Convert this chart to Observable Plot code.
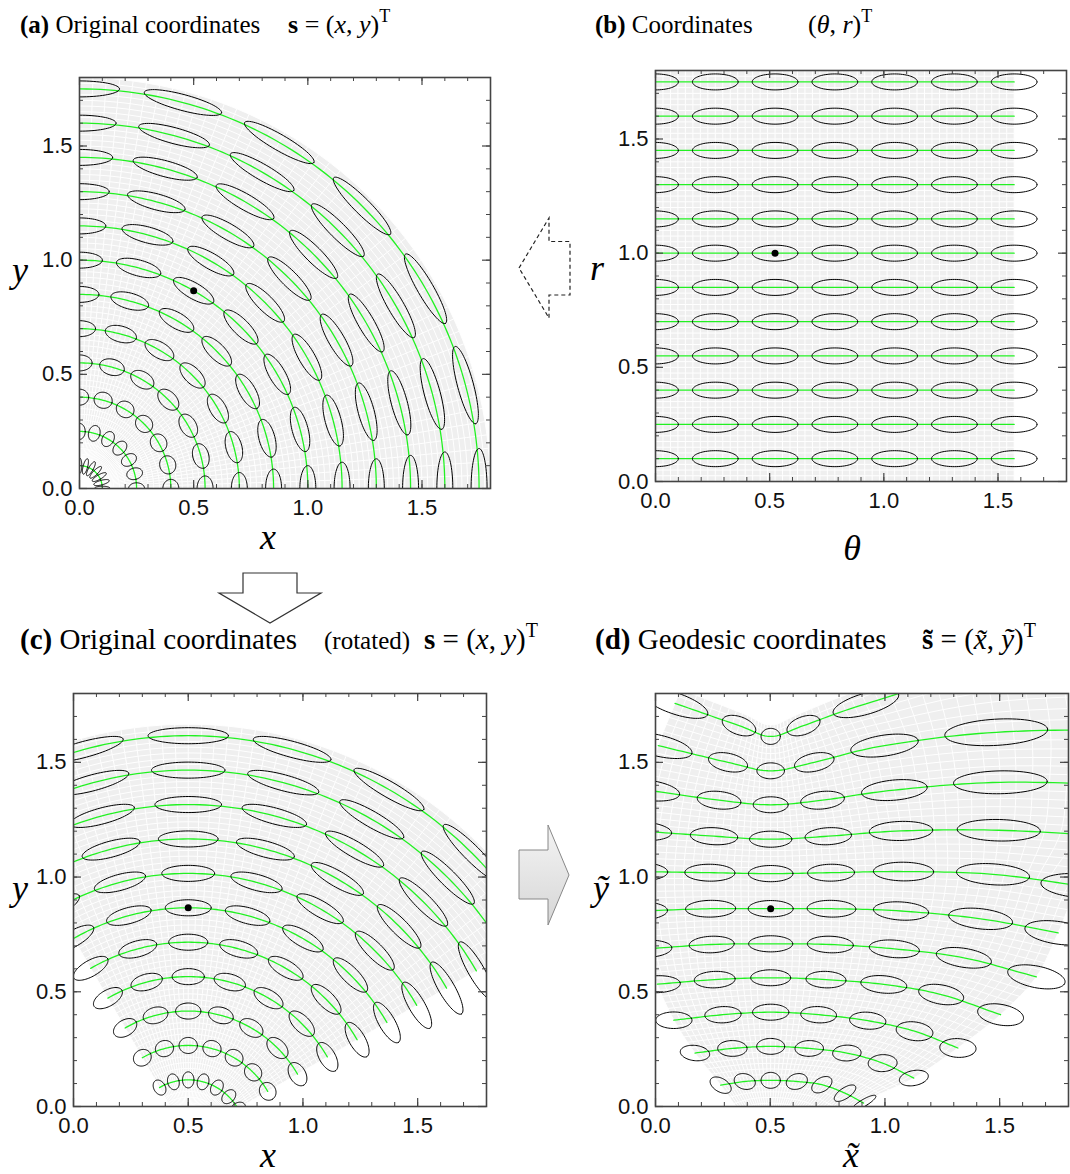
<!DOCTYPE html>
<html><head><meta charset="utf-8">
<script src="https://cdn.jsdelivr.net/npm/d3@7"></script>
<script src="https://cdn.jsdelivr.net/npm/@observablehq/plot@0.6"></script>
<style>
body{margin:0;background:#fff;}
#root{position:relative;width:1070px;height:1174px;overflow:hidden;}
#root .panel{position:absolute;}
#overlay{position:absolute;left:0;top:0;}
</style></head><body><div id="root"></div>
<script>
// ---------------- data ----------------
const rValues = [0.1, 0.25, 0.4, 0.55, 0.7, 0.85, 1.0, 1.15, 1.3, 1.45, 1.6, 1.75];
const thetaValues = [0, 0.2618, 0.5236, 0.7854, 1.0472, 1.309, 1.5708];
const ellipseSemiTheta = 0.1;
const ellipseSemiR = 0.035;
const markedTheta = 0.5236;
const markedR = 1.0;
const regionTheta = [0, 1.5708];
const regionR = [0, 1.8];
const axisDomain = [0, 1.8];
const majorTicks = [0, 0.5, 1.0, 1.5];
const minorTicks = [0,0.1,0.2,0.3,0.4,0.5,0.6,0.7,0.8,0.9,1.0,1.1,1.2,1.3,1.4,1.5,1.6,1.7,1.8];
const gridThetaDivisions = 48;
const gridRDivisions = 72;

// panel (d): geodesic coordinates of each (r row, theta column) node
const geoX = [
  [0.40, 0.452, 0.502, 0.552, 0.60, 0.645, 0.685],
  [0.284, 0.389, 0.502, 0.616, 0.725, 0.826, 0.907],
  [0.172, 0.335, 0.502, 0.670, 0.834, 0.990, 1.126],
  [0.080, 0.294, 0.502, 0.711, 0.925, 1.129, 1.318],
  [0.008, 0.258, 0.502, 0.743, 0.995, 1.245, 1.504],
  [-0.038, 0.245, 0.502, 0.762, 1.041, 1.344, 1.660],
  [-0.068, 0.240, 0.502, 0.767, 1.070, 1.417, 1.755],
  [-0.078, 0.237, 0.502, 0.765, 1.081, 1.471, 1.850],
  [-0.068, 0.255, 0.502, 0.753, 1.070, 1.496, 2.050],
  [-0.038, 0.277, 0.502, 0.728, 1.041, 1.503, 2.100],
  [0.012, 0.316, 0.502, 0.692, 0.998, 1.485, 2.150],
  [0.085, 0.364, 0.502, 0.645, 0.917, 1.440, 2.100]
];
const geoY = [
  [-0.070, -0.042, -0.036, -0.042, -0.065, -0.105, -0.160],
  [0.093, 0.109, 0.114, 0.109, 0.095, 0.058, 0.015],
  [0.233, 0.253, 0.262, 0.253, 0.233, 0.189, 0.124],
  [0.376, 0.400, 0.411, 0.400, 0.374, 0.328, 0.255],
  [0.533, 0.553, 0.561, 0.553, 0.532, 0.488, 0.400],
  [0.687, 0.706, 0.709, 0.706, 0.687, 0.648, 0.565],
  [0.852, 0.862, 0.862, 0.862, 0.852, 0.818, 0.757],
  [1.024, 1.019, 1.015, 1.019, 1.024, 1.012, 0.962],
  [1.201, 1.178, 1.165, 1.178, 1.201, 1.204, 1.175],
  [1.379, 1.335, 1.315, 1.335, 1.379, 1.413, 1.400],
  [1.573, 1.500, 1.463, 1.500, 1.573, 1.631, 1.645],
  [1.757, 1.660, 1.613, 1.660, 1.755, 1.900, 1.960]
];
// horizontal half-extent of each ellipse in panel (d)
const geoHalfWidth = [
  [0.035, 0.032, 0.030, 0.032, 0.034, 0.036, 0.038],
  [0.046, 0.046, 0.042, 0.046, 0.044, 0.047, 0.051],
  [0.064, 0.064, 0.061, 0.062, 0.062, 0.063, 0.063],
  [0.079, 0.079, 0.079, 0.078, 0.079, 0.080, 0.079],
  [0.100, 0.089, 0.087, 0.087, 0.100, 0.098, 0.100],
  [0.109, 0.098, 0.096, 0.100, 0.109, 0.120, 0.125],
  [0.120, 0.109, 0.098, 0.106, 0.120, 0.139, 0.145],
  [0.131, 0.109, 0.097, 0.102, 0.131, 0.159, 0.170],
  [0.138, 0.103, 0.092, 0.101, 0.138, 0.181, 0.200],
  [0.143, 0.095, 0.076, 0.095, 0.143, 0.204, 0.240],
  [0.147, 0.085, 0.060, 0.086, 0.147, 0.224, 0.280],
  [0.143, 0.073, 0.042, 0.072, 0.143, 0.250, 0.300]
];

// ---------------- coordinate maps ----------------
function mapA(t, r) { return [r * Math.sin(t), r * Math.cos(t)]; }
function mapB(t, r) { return [t, r]; }
const pivot = mapA(markedTheta, markedR);
const rotAngle = markedTheta; // rotate so the marked point's radial direction is vertical
function mapC(t, r) {
  const p = mapA(t, r);
  const dx = p[0] - pivot[0], dy = p[1] - pivot[1];
  const c = Math.cos(rotAngle), s = Math.sin(rotAngle);
  return [pivot[0] + c * dx - s * dy, pivot[1] + s * dx + c * dy];
}
const geoRows = geoX.map((row, j) => row.map((x, i) => [x, geoY[j][i]]));
function cr(P, t) {
  const n = P.length;
  let i = Math.floor(t); if (i < 0) i = 0; if (i > n - 2) i = n - 2;
  const u = t - i;
  const get = k => k < 0 ? [2 * P[0][0] - P[1][0], 2 * P[0][1] - P[1][1]]
    : k > n - 1 ? [2 * P[n - 1][0] - P[n - 2][0], 2 * P[n - 1][1] - P[n - 2][1]] : P[k];
  const p0 = get(i - 1), p1 = get(i), p2 = get(i + 1), p3 = get(i + 2);
  const f = (a, b, c, d) => 0.5 * (2 * b + (-a + c) * u + (2 * a - 5 * b + 4 * c - d) * u * u + (-a + 3 * b - 3 * c + d) * u * u * u);
  return [f(p0[0], p1[0], p2[0], p3[0]), f(p0[1], p1[1], p2[1], p3[1])];
}
const dTheta = thetaValues[1] - thetaValues[0];
const dR = rValues[1] - rValues[0];
function mapD(t, r) {
  const ti = (t - thetaValues[0]) / dTheta;
  const rj = (r - rValues[0]) / dR;
  const Q = geoRows.map(row => cr(row, ti));
  return cr(Q, rj);
}

// ---------------- build panel data ----------------
function buildData(M, halfWidths) {
  const region = [];
  const N = 80;
  const tA = regionTheta[0], tB = regionTheta[1], rA = regionR[0], rB = regionR[1];
  for (let k = 0; k <= N; k++) region.push(M(tA + (tB - tA) * k / N, rA));
  for (let k = 0; k <= N; k++) region.push(M(tB, rA + (rB - rA) * k / N));
  for (let k = N; k >= 0; k--) region.push(M(tA + (tB - tA) * k / N, rB));
  for (let k = N; k >= 0; k--) region.push(M(tA, rA + (rB - rA) * k / N));
  const regionPts = region.map(p => ({x: p[0], y: p[1]}));

  const grid = [];
  let id = 0;
  for (let k = 0; k <= gridThetaDivisions; k++) {
    const t = tA + (tB - tA) * k / gridThetaDivisions;
    for (let m = 0; m <= 60; m++) { const p = M(t, rA + (rB - rA) * m / 60); grid.push({x: p[0], y: p[1], id}); }
    id++;
  }
  for (let k = 0; k <= gridRDivisions; k++) {
    const r = rA + (rB - rA) * k / gridRDivisions;
    for (let m = 0; m <= 48; m++) { const p = M(tA + (tB - tA) * m / 48, r); grid.push({x: p[0], y: p[1], id}); }
    id++;
  }

  const green = [];
  rValues.forEach((r, j) => {
    const t0 = thetaValues[0], t1 = thetaValues[thetaValues.length - 1];
    for (let m = 0; m <= 90; m++) { const p = M(t0 + (t1 - t0) * m / 90, r); green.push({x: p[0], y: p[1], z: j}); }
  });

  const ells = [];
  const h = 1e-4;
  rValues.forEach((r, j) => {
    thetaValues.forEach((t, i) => {
      const c = M(t, r);
      const a1 = M(t + h, r), a0 = M(t - h, r);
      const b1 = M(t, r + h), b0 = M(t, r - h);
      let u = [(a1[0] - a0[0]) / (2 * h) * ellipseSemiTheta, (a1[1] - a0[1]) / (2 * h) * ellipseSemiTheta];
      const v = [(b1[0] - b0[0]) / (2 * h) * ellipseSemiR, (b1[1] - b0[1]) / (2 * h) * ellipseSemiR];
      if (halfWidths) {
        const hw = halfWidths[j][i];
        const need = Math.sqrt(Math.max(hw * hw - v[0] * v[0], (0.3 * hw) * (0.3 * hw)));
        const s = need / Math.max(Math.abs(u[0]), 1e-6);
        u = [u[0] * s, u[1] * s];
      }
      const key = j * 100 + i;
      for (let m = 0; m <= 72; m++) {
        const a = 2 * Math.PI * m / 72;
        ells.push({x: c[0] + u[0] * Math.cos(a) + v[0] * Math.sin(a), y: c[1] + u[1] * Math.cos(a) + v[1] * Math.sin(a), z: key});
      }
    });
  });
  const pt = M(markedTheta, markedR);
  return {regionPts, grid, green, ells, dot: [{x: pt[0], y: pt[1]}]};
}

const root = document.getElementById("root");
const panels = [
  {map: mapA, left: 79, top: 77, size: 411},
  {map: mapB, left: 655, top: 70, size: 411},
  {map: mapC, left: 73, top: 693, size: 413},
  {map: mapD, left: 655, top: 693, size: 413, hw: geoHalfWidth}
];
const frameColor = "#444";
panels.forEach(p => {
  const d = buildData(p.map, p.hw);
  const mL = 62, mR = 6, mT = 6, mB = 44;
  const S = p.size;
  const chart = Plot.plot({
    width: mL + S + mR, height: mT + S + mB,
    marginLeft: mL, marginRight: mR, marginTop: mT, marginBottom: mB,
    x: {domain: axisDomain, range: [mL, mL + S]},
    y: {domain: axisDomain, range: [mT + S, mT]},
    style: {fontFamily: "'Liberation Sans', Arial, sans-serif", fontSize: "22px", color: "#111", background: "transparent", overflow: "visible"},
    marks: [
      Plot.line(d.regionPts, {x: "x", y: "y", fill: "#efefef", stroke: "none", clip: true}),
      Plot.line(d.grid, {x: "x", y: "y", z: "id", stroke: "white", strokeWidth: 1, clip: true}),
      Plot.line(d.green, {x: "x", y: "y", z: "z", stroke: "#22f022", strokeWidth: 1.3, clip: true}),
      Plot.line(d.ells, {x: "x", y: "y", z: "z", stroke: "black", strokeWidth: 1, clip: true}),
      Plot.dot(d.dot, {x: "x", y: "y", r: 3.5, fill: "black", stroke: "none"}),
      Plot.tickX(minorTicks, {x: v => v, insetTop: S - 4, stroke: frameColor, strokeWidth: 1}),
      Plot.tickX(minorTicks, {x: v => v, insetBottom: S - 4, stroke: frameColor, strokeWidth: 1}),
      Plot.tickY(minorTicks, {y: v => v, insetRight: S - 4, stroke: frameColor, strokeWidth: 1}),
      Plot.tickY(minorTicks, {y: v => v, insetLeft: S - 4, stroke: frameColor, strokeWidth: 1}),
      Plot.tickX(majorTicks, {x: v => v, insetTop: S - 8, stroke: frameColor, strokeWidth: 1.2}),
      Plot.tickX(majorTicks, {x: v => v, insetBottom: S - 8, stroke: frameColor, strokeWidth: 1.2}),
      Plot.tickY(majorTicks, {y: v => v, insetRight: S - 8, stroke: frameColor, strokeWidth: 1.2}),
      Plot.tickY(majorTicks, {y: v => v, insetLeft: S - 8, stroke: frameColor, strokeWidth: 1.2}),
      Plot.axisX(majorTicks, {anchor: "bottom", tickSize: 0, tickPadding: 11, tickFormat: v => v.toFixed(1), label: null}),
      Plot.axisY(majorTicks, {anchor: "left", tickSize: 0, tickPadding: 7, tickFormat: v => v.toFixed(1), label: null}),
      Plot.frame({stroke: frameColor, strokeWidth: 1.6})
    ]
  });
  chart.classList.add("panel");
  chart.style.left = (p.left - mL) + "px";
  chart.style.top = (p.top - mT) + "px";
  root.appendChild(chart);
});

// ---------------- titles, axis names, arrows ----------------
const serif = "'Liberation Serif', 'Times New Roman', serif";
const ov = `
<svg id="overlay" width="1070" height="1174" xmlns="http://www.w3.org/2000/svg" font-family="${serif}">
  <text x="20" y="33" font-size="25"><tspan font-weight="bold">(a)</tspan> Original coordinates</text>
  <text x="288" y="33" font-size="26"><tspan font-weight="bold">s</tspan> = (<tspan font-style="italic">x</tspan>, <tspan font-style="italic">y</tspan>)<tspan dy="-11" font-size="18">T</tspan></text>
  <text x="595" y="33" font-size="25"><tspan font-weight="bold">(b)</tspan> Coordinates</text>
  <text x="808" y="33" font-size="26">(<tspan font-style="italic">θ</tspan>, <tspan font-style="italic">r</tspan>)<tspan dy="-11" font-size="18">T</tspan></text>
  <text x="20" y="649" font-size="29"><tspan font-weight="bold">(c)</tspan> Original coordinates</text>
  <text x="324" y="649" font-size="25">(rotated)</text>
  <text x="424" y="649" font-size="29"><tspan font-weight="bold">s</tspan> = (<tspan font-style="italic">x</tspan>, <tspan font-style="italic">y</tspan>)<tspan dy="-12" font-size="20">T</tspan></text>
  <text x="595" y="649" font-size="29"><tspan font-weight="bold">(d)</tspan> Geodesic coordinates</text>
  <text x="922" y="649" font-size="29"><tspan font-weight="bold">s̃</tspan> = (<tspan font-style="italic">x̃</tspan>, <tspan font-style="italic">ỹ</tspan>)<tspan dy="-12" font-size="20">T</tspan></text>

  <text x="268" y="549" font-size="36" font-style="italic" text-anchor="middle">x</text>
  <text x="20" y="282" font-size="36" font-style="italic" text-anchor="middle">y</text>
  <text x="852" y="560" font-size="36" font-style="italic" text-anchor="middle">θ</text>
  <text x="597" y="280" font-size="36" font-style="italic" text-anchor="middle">r</text>
  <text x="268" y="1167" font-size="36" font-style="italic" text-anchor="middle">x</text>
  <text x="20" y="900" font-size="36" font-style="italic" text-anchor="middle">y</text>
  <text x="851" y="1167" font-size="36" font-style="italic" text-anchor="middle">x̃</text>
  <text x="601" y="900" font-size="36" font-style="italic" text-anchor="middle">ỹ</text>

  <polygon points="519,268 549,218 549,241.5 570,241.5 570,295 549,295 549,318" fill="white" stroke="#222" stroke-width="1.2" stroke-dasharray="4,3"/>
  <polygon points="243,573 297,573 297,593 321,593 270,623 219,593 243,593" fill="white" stroke="#333" stroke-width="1.2"/>
  <defs><linearGradient id="ag" x1="0" y1="0" x2="0" y2="1"><stop offset="0" stop-color="#f4f4f4"/><stop offset="1" stop-color="#d6d6d6"/></linearGradient></defs>
  <polygon points="519,850 548,850 548,825 569,875 548,925 548,899 519,899" fill="url(#ag)" stroke="#888" stroke-width="1"/>
</svg>`;
root.insertAdjacentHTML("beforeend", ov);
</script></body></html>
